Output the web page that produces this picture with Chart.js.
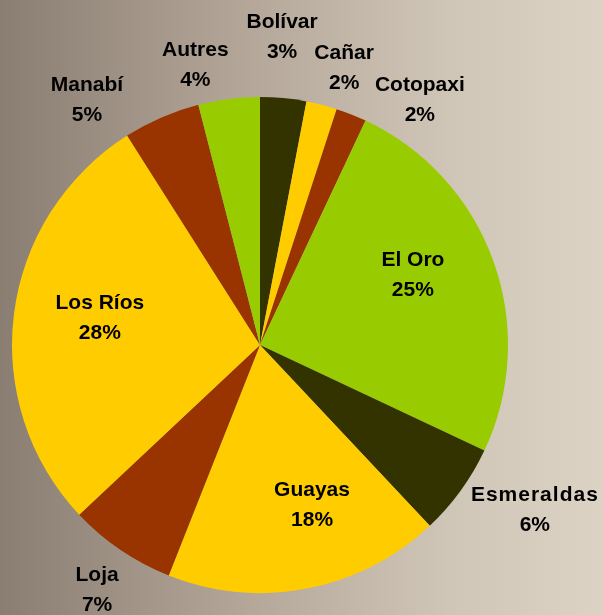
<!DOCTYPE html>
<html>
<head>
<meta charset="utf-8">
<script src="https://cdn.jsdelivr.net/npm/chart.js@4"></script>
<style>
  html, body { margin: 0; padding: 0; }
  body {
    width: 603px; height: 615px; overflow: hidden;
    background: linear-gradient(to right, #8a7d71 0%, #b3a699 40%, #d0c6b7 75%, #dcd3c4 100%);
  }
  #wrap { position: relative; width: 603px; height: 615px; }
</style>
</head>
<body>
<div id="wrap"><canvas id="pie"></canvas></div>
<script>
// Provinces, share of total (%)
const provinces = ['Bolívar', 'Cañar', 'Cotopaxi', 'El Oro', 'Esmeraldas', 'Guayas', 'Loja', 'Los Ríos', 'Manabí', 'Autres'];
const shares    = [3, 2, 2, 25, 6, 18, 7, 28, 5, 4];

const sliceColors = ['#333300', '#ffcc00', '#993300', '#99cc00', '#333300', '#ffcc00', '#993300', '#ffcc00', '#993300', '#99cc00'];

// Label placement: distance from centre (in radii) and angular nudge (degrees) from the slice middle
const labelRadius = [1.245, 1.167, 1.18, 0.678, 1.293, 0.679, 1.187, 0.655, 1.21, 1.159];
const labelNudge  = [-1.3, 2.5, 11.5, -4.8, -5, -7.2, -0.6, 2.4, -11.8, -5.8];

const sliceLabels = {
  id: 'sliceLabels',
  afterDatasetsDraw(chart) {
    const ctx = chart.ctx;
    const meta = chart.getDatasetMeta(0);
    ctx.save();
    ctx.fillStyle = '#000';
    ctx.textAlign = 'center';
    ctx.textBaseline = 'middle';
    ctx.font = 'bold 21px "Liberation Sans", Arial, sans-serif';
    meta.data.forEach((arc, i) => {
      const p = arc.getProps(['x', 'y', 'startAngle', 'endAngle', 'outerRadius'], true);
      const mid = (p.startAngle + p.endAngle) / 2 + labelNudge[i] * Math.PI / 180;
      const r = p.outerRadius * labelRadius[i];
      const x = p.x + Math.cos(mid) * r;
      const y = p.y + Math.sin(mid) * r;
      ctx.letterSpacing = provinces[i] === 'Esmeraldas' ? '1px' : '0px';
      ctx.fillText(provinces[i], x, y - 15);
      ctx.letterSpacing = '0px';
      ctx.fillText(shares[i] + '%', x, y + 15);
    });
    ctx.restore();
  }
};

new Chart(document.getElementById('pie'), {
  type: 'pie',
  data: {
    labels: provinces,
    datasets: [{
      data: shares,
      backgroundColor: sliceColors,
      borderWidth: 0,
      hoverOffset: 0,
      offset: 0
    }]
  },
  options: {
    responsive: true,
    maintainAspectRatio: false,
    animation: false,
    events: [],
    layout: { padding: { left: 12, right: 95, top: 97, bottom: 22 } },
    plugins: {
      legend: { display: false },
      tooltip: { enabled: false }
    }
  },
  plugins: [sliceLabels]
});
</script>
</body>
</html>
